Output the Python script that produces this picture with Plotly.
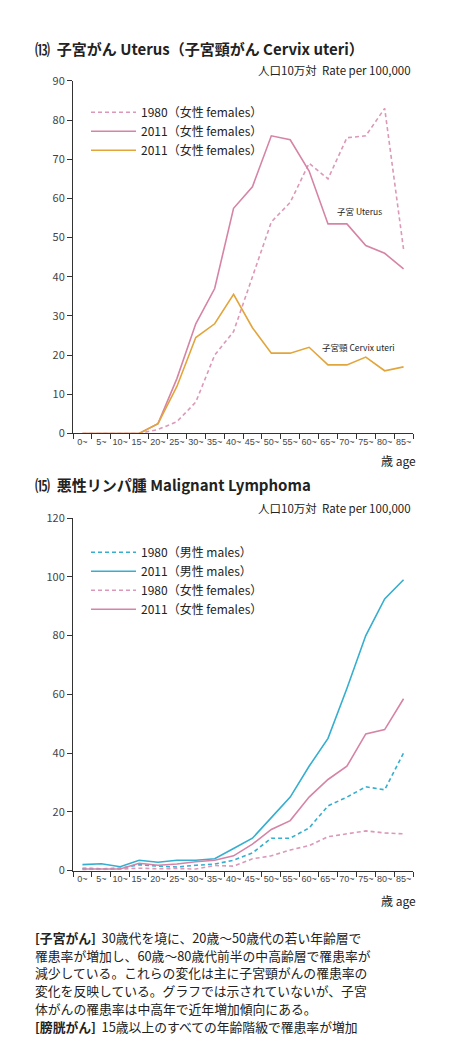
import plotly.graph_objects as go

ages = ['0~', '5~', '10~', '15~', '20~', '25~', '30~', '35~', '40~', '45~',
        '50~', '55~', '60~', '65~', '70~', '75~', '80~', '85~']

# Uterus (females)
uterus_1980 = [0, 0, 0, 0, 1, 3, 8, 20, 26, 40, 54, 59, 69, 65, 75.5, 76, 83, 47]
uterus_2011 = [0, 0, 0, 0, 2.5, 14, 28, 37, 57.5, 63, 76, 75, 67, 53.5, 53.5, 48, 46, 42]
cervix_2011 = [0, 0, 0, 0, 2.5, 12, 24.5, 28, 35.5, 27, 20.5, 20.5, 22, 17.5, 17.5, 19.5, 16, 17]

# Malignant lymphoma
lym_m_1980 = [0.8, 0.6, 0.8, 2, 1.5, 1.2, 1.8, 2.2, 3.5, 6, 11, 11, 14.5, 22, 25, 28.5, 27.5, 40]
lym_m_2011 = [2, 2.3, 1.3, 3.5, 2.8, 3.5, 3.5, 4, 7.5, 11, 18, 25, 35.5, 45, 62, 80, 92.5, 99]
lym_f_1980 = [0.3, 0.3, 0.5, 0.8, 0.6, 0.7, 0.5, 1.7, 1.5, 4, 5, 7, 8.5, 11.5, 12.5, 13.5, 12.8, 12.5]
lym_f_2011 = [0.5, 0.5, 0.5, 2.5, 1.8, 2.2, 3, 3.5, 5, 9, 14, 17, 25, 31, 35.5, 46.5, 48, 58.5]

OFF = 8  # page margin of the browser
W, H = 464 - OFF, 1038 - OFF
PINK = '#d684a6'
PINK_L = '#dc98b8'
BLUE = '#35aecf'
ORANGE = '#e2a53c'
FONT = 'Noto Sans CJK JP'
xs = list(range(len(ages)))


def px(x):
    return (x - OFF) / W


def py(y):
    return 1 - (y - OFF) / H


fig = go.Figure()


def line(y, name, color, dash, xa, ya, legend, width=1.6):
    fig.add_trace(go.Scatter(x=xs, y=y, name=name, mode='lines',
                             line=dict(color=color, dash=dash, width=width),
                             xaxis=xa, yaxis=ya, legend=legend))


line(uterus_1980, '1980（女性 females）', PINK_L, '4px,3px', 'x', 'y', 'legend')
line(uterus_2011, '2011（女性 females）', PINK, 'solid', 'x', 'y', 'legend')
line(cervix_2011, '2011（女性 females）', ORANGE, 'solid', 'x', 'y', 'legend')
line(lym_m_1980, '1980（男性 males）', BLUE, '4px,3px', 'x2', 'y2', 'legend2')
line(lym_m_2011, '2011（男性 males）', BLUE, 'solid', 'x2', 'y2', 'legend2')
line(lym_f_1980, '1980（女性 females）', PINK_L, '4px,3px', 'x2', 'y2', 'legend2')
line(lym_f_2011, '2011（女性 females）', PINK, 'solid', 'x2', 'y2', 'legend2')

xaxis = dict(range=[-0.5, 17.5], tickvals=xs, ticktext=ages, ticks='', showgrid=False,
             zeroline=False, showline=True, linecolor='#333', linewidth=1, tickangle=0,
             tickfont=dict(size=9, color='#444', family='Liberation Sans Narrow, Liberation Sans'),
             minor=dict(tick0=-0.5, dtick=1, ticks='outside', ticklen=5, tickcolor='#333'))
yaxis = dict(showgrid=False, zeroline=False, showline=True, linecolor='#333', linewidth=1,
             ticks='outside', ticklen=5, tickcolor='#333', tickfont=dict(size=11, color='#444'))

fig.update_layout(
    width=W, height=H, margin=dict(l=0, r=0, t=0, b=0),
    paper_bgcolor='white', plot_bgcolor='white',
    font=dict(family=FONT, color='#222'),
    xaxis=dict(xaxis, domain=[px(73), px(413)], anchor='y'),
    yaxis=dict(yaxis, domain=[py(431), py(73)], range=[0, 90], dtick=10, anchor='x'),
    xaxis2=dict(xaxis, domain=[px(73), px(413)], anchor='y2'),
    yaxis2=dict(yaxis, domain=[py(875), py(517)], range=[0, 120], dtick=20, anchor='x2'),
    legend=dict(x=px(86), y=py(90), xanchor='left', yanchor='top', bgcolor='rgba(0,0,0,0)',
                font=dict(size=12), tracegroupgap=0, itemwidth=45),
    legend2=dict(x=px(86), y=py(537), xanchor='left', yanchor='top', bgcolor='rgba(0,0,0,0)',
                 font=dict(size=12), tracegroupgap=0, itemwidth=45),
)


def text(x, y, s, size, anchor='left', bold=False, color='#222'):
    if bold:
        s = '<b>' + s + '</b>'
    fig.add_annotation(x=px(x), y=py(y), xref='paper', yref='paper', text=s, showarrow=False,
                       xanchor=anchor, yanchor='middle', font=dict(size=size, color=color))


text(33, 40, '⒀  子宮がん Uterus（子宮頸がん Cervix uteri）', 15, bold=True)
text(413, 62, '人口10万対  Rate per 100,000', 11.5, 'right')
text(335, 205, '子宮 Uterus', 8.5)
text(320, 343, '子宮頸 Cervix uteri', 8.5)
text(418, 459, '歳 age', 12, 'right')
text(33, 483, '⒂  悪性リンパ腫 Malignant Lymphoma', 15, bold=True)
text(413, 507, '人口10万対  Rate per 100,000', 11.5, 'right')
text(418, 905, '歳 age', 12, 'right')

para = [
    '<b>[子宮がん]</b>  30歳代を境に、20歳～50歳代の若い年齢層で',
    '罹患率が増加し、60歳～80歳代前半の中高齢層で罹患率が',
    '減少している。これらの変化は主に子宮頸がんの罹患率の',
    '変化を反映している。グラフでは示されていないが、子宮',
    '体がんの罹患率は中高年で近年増加傾向にある。',
    '<b>[膀胱がん]</b>  15歳以上のすべての年齢階級で罹患率が増加',
]
for i, s in enumerate(para):
    text(33, 943 + i * 18, s, 12.8)

fig.write_html('out.html')
